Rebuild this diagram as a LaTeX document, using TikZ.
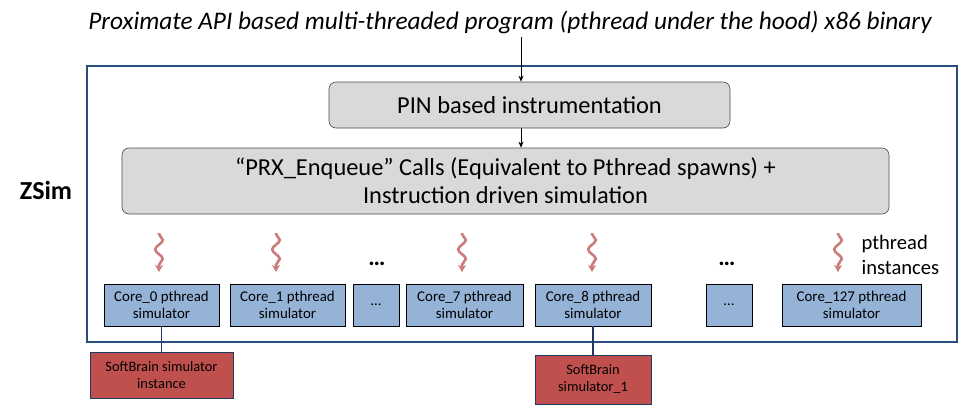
\documentclass[tikz,border=0pt]{standalone}
\usepackage{fontspec}
\setmainfont{Carlito}
\usetikzlibrary{decorations.pathmorphing,arrows.meta}
\definecolor{zblue}{RGB}{40,78,128}
\definecolor{boxgray}{RGB}{217,217,217}
\definecolor{coreblue}{RGB}{149,179,215}
\definecolor{sbred}{RGB}{192,80,77}
\definecolor{sbborder}{RGB}{31,56,100}
\definecolor{squig}{RGB}{204,124,122}
\begin{document}
\begin{tikzpicture}[x=1pt,y=-1pt,
  graybox/.style={draw=black!70,fill=boxgray,rounded corners=7pt,inner sep=0pt,line width=0.6pt},
  corebox/.style={draw=black,fill=coreblue,inner sep=0pt,minimum height=42pt,line width=0.8pt,align=center,
    font=\fontsize{14.9}{16.5}\selectfont},
  sbbox/.style={draw=sbborder,fill=sbred,inner sep=0pt,line width=0.8pt,align=center,
    font=\fontsize{14.4}{17}\selectfont},
  squiggle/.style={draw=squig,line width=2.6pt,-{Stealth[length=7pt,width=8pt,inset=2pt]},
    decorate,decoration={snake,amplitude=3.8pt,segment length=19pt,pre length=1pt,post length=7pt}},
  link/.style={draw=sbborder,line width=1.6pt},
  flow/.style={draw=black,line width=0.8pt,-{Stealth[length=6pt,width=5pt]}}
]
\useasboundingbox (0,0) rectangle (960,415);

\node[font=\fontsize{25.3}{28}\selectfont\itshape] (title) at (510,22) {Proximate API based multi-threaded program (pthread under the hood) x86 binary};

\node[draw=zblue,line width=1.8pt,minimum width=870pt,minimum height=276pt,inner sep=0pt] (zsim) at (522,204) {};
\node[font=\fontsize{26}{30}\selectfont\bfseries] (zlabel) at (46,190) {ZSim};

\node[graybox,minimum width=401pt,minimum height=46pt,font=\fontsize{24.4}{27}\selectfont] (pin) at (529.5,105) {PIN based instrumentation};
\node[graybox,minimum width=767pt,minimum height=66pt,align=center,font=\fontsize{24.4}{28}\selectfont] (prx) at (505.5,181)
  {“PRX\_Enqueue” Calls (Equivalent to Pthread spawns) +\\Instruction driven simulation};

\coordinate (ax) at (521,0);
\draw[flow] (title.south -| ax) -- (pin.north -| ax);
\draw[flow] (pin.south -| ax) -- (prx.north -| ax);

\node[corebox,minimum width=115pt] (c0) at (161.5,305) {Core\_0 pthread\\simulator};
\node[corebox,minimum width=115pt] (c1) at (287.5,305) {Core\_1 pthread\\simulator};
\node[corebox,minimum width=46pt] (d1) at (376,305) {\dots};
\node[corebox,minimum width=117pt] (c7) at (464.5,305) {Core\_7 pthread\\simulator};
\node[corebox,minimum width=116pt] (c8) at (593,305) {Core\_8 pthread\\simulator};
\node[corebox,minimum width=46pt] (d2) at (729,305) {\dots};
\node[corebox,minimum width=139pt] (c127) at (851.5,305) {Core\_127 pthread\\simulator};

\node[font=\fontsize{24}{26}\selectfont\bfseries] (dots1) at (377,264) {\dots};
\node[font=\fontsize{24}{26}\selectfont\bfseries] (dots2) at (727,264) {\dots};

\node[anchor=west,align=left,font=\fontsize{20.6}{25.5}\selectfont] (pinst) at (858,255) {pthread\\instances};

\foreach \n/\x in {s0/159,s1/276,s7/462,s8/592,s127/838}{
  \coordinate (\n a) at (\x,233);
  \coordinate (\n b) at (\x,272);
  \draw[squiggle] (\n a) -- (\n b);
}

\node[sbbox,minimum width=143pt,minimum height=46pt] (sb0) at (161.5,375) {SoftBrain simulator\\instance};
\node[sbbox,minimum width=116pt,minimum height=49pt] (sb1) at (593,379.5) {SoftBrain\\simulator\_1};

\draw[link] (c0.south) -- (sb0.north);
\draw[link] (c8.south) -- (sb1.north);
\end{tikzpicture}
\end{document}
